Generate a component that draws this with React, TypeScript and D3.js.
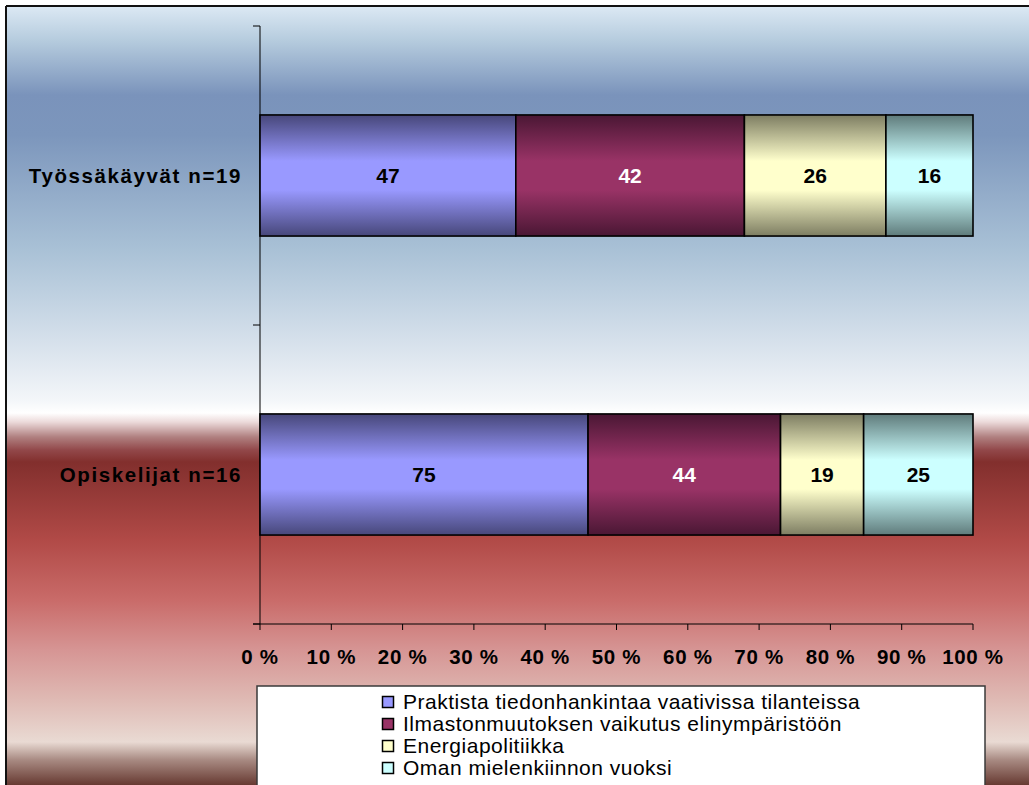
import React from "react";
import * as d3 from "d3";

const categories = ["Työssäkäyvät n=19", "Opiskelijat n=16"];
const seriesNames = [
  "Praktista tiedonhankintaa vaativissa tilanteissa",
  "Ilmastonmuutoksen vaikutus elinympäristöön",
  "Energiapolitiikka",
  "Oman mielenkiinnon vuoksi",
];
const praktista = [47, 75];
const ilmasto = [42, 44];
const energia = [26, 19];
const oman = [16, 25];
const xTicks = [0, 0.1, 0.2, 0.3, 0.4, 0.5, 0.6, 0.7, 0.8, 0.9, 1];

const seriesValues = [praktista, ilmasto, energia, oman];
const baseColors = ["#9999FF", "#993366", "#FFFFCC", "#CCFFFF"];
const edgeColors = ["#47477a", "#4a1734", "#7d7d62", "#5f7b7b"];
const labelColors = ["#000", "#fff", "#000", "#000"];

const W = 1029;
const H = 785;
const FONT = "'Liberation Sans', Arial, sans-serif";

const bgStops: [number, string][] = [
  [6, "#dce9f4"],
  [40, "#b6ccde"],
  [95, "#7a93bb"],
  [135, "#7c96bc"],
  [250, "#a9c1d6"],
  [340, "#d5e0eb"],
  [400, "#f3f6f9"],
  [413, "#ffffff"],
  [422, "#ecdada"],
  [437, "#b08080"],
  [450, "#92484a"],
  [462, "#822f2d"],
  [540, "#b14a47"],
  [600, "#c96b69"],
  [650, "#d69594"],
  [700, "#dfbab4"],
  [742, "#e9dad3"],
  [760, "#a88a82"],
  [790, "#5a2a22"],
];

export default function App() {
  const x = d3.scaleLinear().domain([0, 1]).range([260, 973]);
  const y = d3
    .scaleBand<string>()
    .domain(categories)
    .range([26, 624])
    .paddingInner(0.595)
    .paddingOuter(0.2975);

  const stack = d3
    .stack<number>()
    .keys(seriesNames.map((_, i) => String(i)))
    .value((ci, key) => {
      const total = seriesValues.reduce((s, arr) => s + arr[ci], 0);
      return seriesValues[+key][ci] / total;
    })
    .order(d3.stackOrderNone)
    .offset(d3.stackOffsetNone);
  const stacked = stack(categories.map((_, i) => i));

  const bgTop = 6;
  const bgH = 790 - 6;
  const step = y.step();
  const yTickPos = [26, 26 + step, 624];

  return (
    <svg
      width={W}
      height={H}
      style={{ position: "absolute", left: 0, top: 0, display: "block" }}
    >
      <defs>
        <linearGradient id="bg" x1="0" y1="0" x2="0" y2="1">
          {bgStops.map(([py, c], i) => (
            <stop key={i} offset={(py - bgTop) / bgH} stopColor={c} />
          ))}
        </linearGradient>
        {baseColors.map((c, i) => (
          <linearGradient key={i} id={`bar${i}`} x1="0" y1="0" x2="0" y2="1">
            <stop offset="0" stopColor={edgeColors[i]} />
            <stop offset="0.38" stopColor={c} />
            <stop offset="0.62" stopColor={c} />
            <stop offset="1" stopColor={edgeColors[i]} />
          </linearGradient>
        ))}
      </defs>
      <rect x={0} y={0} width={W} height={H} fill="#fff" />
      <rect x={6} y={bgTop} width={W + 10} height={bgH} fill="url(#bg)" />
      <line x1={6} y1={6} x2={W} y2={6} stroke="#111" strokeWidth={2} />
      <line x1={6} y1={6} x2={6} y2={H} stroke="#111" strokeWidth={2} />

      {/* axes */}
      <line x1={260} y1={26} x2={260} y2={624} stroke="#000" strokeWidth={1} />
      <line x1={253} y1={624} x2={973} y2={624} stroke="#000" strokeWidth={1} />
      {yTickPos.map((ty, i) => (
        <line key={i} x1={253} y1={ty} x2={260} y2={ty} stroke="#000" strokeWidth={1} />
      ))}
      {xTicks.map((t, i) => (
        <g key={i}>
          <line x1={x(t)} y1={624} x2={x(t)} y2={630} stroke="#000" strokeWidth={1} />
          <text
            x={x(t)}
            y={664}
            textAnchor="middle"
            fontFamily={FONT}
            fontWeight="bold"
            fontSize={20.5}
            letterSpacing={0.7}
            fill="#000"
          >
            {`${Math.round(t * 100)} %`}
          </text>
        </g>
      ))}

      {/* category labels */}
      {categories.map((c) => (
        <text
          key={c}
          x={242}
          y={(y(c) ?? 0) + y.bandwidth() / 2 + 7.5}
          textAnchor="end"
          fontFamily={FONT}
          fontWeight="bold"
          fontSize={20.5}
          letterSpacing={1.6}
          fill="#000"
        >
          {c}
        </text>
      ))}

      {/* bars */}
      {stacked.map((layer, si) =>
        layer.map((d, ci) => {
          const cat = categories[ci];
          const x0 = x(d[0]);
          const x1 = x(d[1]);
          const yy = y(cat) ?? 0;
          return (
            <g key={`${si}-${ci}`}>
              <rect
                x={x0}
                y={yy}
                width={x1 - x0}
                height={y.bandwidth()}
                fill={`url(#bar${si})`}
                stroke="#000"
                strokeWidth={1.6}
              />
              <text
                x={(x0 + x1) / 2}
                y={yy + y.bandwidth() / 2 + 7.5}
                textAnchor="middle"
                fontFamily={FONT}
                fontWeight="bold"
                fontSize={21}
                fill={labelColors[si]}
              >
                {seriesValues[si][ci]}
              </text>
            </g>
          );
        })
      )}

      {/* legend */}
      <rect x={257} y={686} width={728} height={120} fill="#fff" stroke="#3a3a3a" strokeWidth={1.5} />
      {seriesNames.map((s, i) => (
        <g key={s}>
          <rect
            x={382.5}
            y={696.5 + i * 22}
            width={11}
            height={11}
            fill={baseColors[i]}
            stroke="#000"
            strokeWidth={1.5}
          />
          <text
            x={403}
            y={709 + i * 22}
            fontFamily={FONT}
            fontSize={21}
            letterSpacing={0.5}
            fill="#000"
          >
            {s}
          </text>
        </g>
      ))}
    </svg>
  );
}
